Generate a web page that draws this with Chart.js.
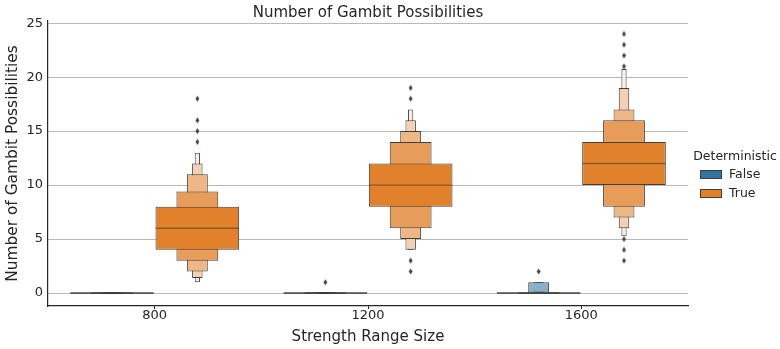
<!DOCTYPE html>
<html>
<head>
<meta charset="utf-8">
<script src="https://cdn.jsdelivr.net/npm/chart.js@4.4.1/dist/chart.umd.min.js"></script>
<style>
  html, body { margin: 0; padding: 0; background: #ffffff; }
  #wrap { position: relative; width: 780px; height: 349px; }
  #legend { position: absolute; left: 0; top: 0; font-family: 'DejaVu Sans', sans-serif; color: #262626; }
  .lg-title { position: absolute; left: 690px; top: 148px; width: 90px; text-align: center; font-size: 12.5px; line-height: 16px; }
  .lg-item { position: absolute; left: 700px; font-size: 12.5px; line-height: 16px; white-space: nowrap; }
  .lg-swatch { position: absolute; left: 0; top: 3.5px; width: 22px; height: 9px; box-sizing: border-box; border: 1px solid #3f3f3f; }
  .lg-text { position: absolute; left: 29px; top: 0; }
</style>
</head>
<body>
<div id="wrap">
  <canvas id="chart" width="780" height="349"></canvas>
  <div id="legend"></div>
</div>
<script>
// Categories and hue groups
const categories = ['800', '1200', '1600'];
const hues = ['False', 'True'];
const hueColors = ['#3274a1', '#e1812c'];
const yTicks = [0, 5, 10, 15, 20, 25];

// Letter-value boxes [lower, upper] per category; level 1 (quartiles) first, then outward
const falseBoxes = [
  [[0, 0], [0, 0], [0, 0]],
  [[0, 0], [0, 0], [0, 0]],
  [[0, 0], [0, 0], [0, 1]],
  [[0, 0], [0, 0], [0, 1]],
  [[0, 0], [0, 0], [0, 1]]
];
const trueBoxes = [
  [[4, 8], [8, 12], [10, 14]],
  [[3, 9.4], [6, 14], [8, 16]],
  [[2, 11], [5, 15], [7, 17]],
  [[1.4, 12], [4, 16], [6, 19]],
  [[1, 13], [4, 17], [5.25, 20.75]]
];

// Medians per category
const falseMedians = [0, 0, 0];
const trueMedians = [6, 10, 12];

// Outlying observations per category
const falseOutliers = [[], [1], [2]];
const trueOutliers = [[14, 15, 16, 18], [2, 3, 18, 19], [3, 4, 5, 21, 22, 23, 24]];

const FONT = "'DejaVu Sans', 'Liberation Sans', sans-serif";
const INK = '#262626';
const EDGE = '#3f3f3f';
const GRID = '#b9b9b9';

const boxesByHue = [falseBoxes, trueBoxes];
const mediansByHue = [falseMedians, trueMedians];
const outliersByHue = [falseOutliers, trueOutliers];
const nLevels = trueBoxes.length;

// dodge offsets of the two hue slots, in category units
const HUE_OFFSET = [-0.2, 0.2];
const HALF_W = 0.98 * 0.4 / 2;

// lighten a hex colour toward white by fraction f
function tint(hex, f) {
  const n = parseInt(hex.slice(1), 16);
  const r = (n >> 16) & 255, g = (n >> 8) & 255, b = n & 255;
  const m = c => Math.round(c + (255 - c) * f);
  return 'rgb(' + m(r) + ',' + m(g) + ',' + m(b) + ')';
}

// thin diamond marker for outliers
const diamond = document.createElement('canvas');
diamond.width = 5; diamond.height = 7;
(function () {
  const d = diamond.getContext('2d');
  d.fillStyle = EDGE;
  d.beginPath();
  d.moveTo(2.5, 0.6); d.lineTo(4.4, 3.5); d.lineTo(2.5, 6.4); d.lineTo(0.6, 3.5);
  d.closePath(); d.fill();
})();

const datasets = [];

// median segments across each level-1 box
const medianPts = [];
mediansByHue.forEach((meds, h) => meds.forEach((m, i) => {
  const c = i + HUE_OFFSET[h];
  medianPts.push({ x: c - HALF_W, y: m }, { x: c + HALF_W, y: m }, { x: c, y: null });
}));
datasets.push({
  type: 'line', xAxisID: 'xm', yAxisID: 'y', data: medianPts,
  borderColor: 'rgba(38,38,38,0.45)', borderWidth: 1.3, pointRadius: 0,
  spanGaps: false, fill: false, tension: 0
});

// outliers
const outPts = [];
outliersByHue.forEach((outs, h) => outs.forEach((vals, i) => vals.forEach(v => {
  outPts.push({ x: i + HUE_OFFSET[h], y: v });
})));
datasets.push({
  type: 'scatter', xAxisID: 'xm', yAxisID: 'y', data: outPts,
  pointStyle: diamond, pointRadius: 3, pointHoverRadius: 3
});

// nested boxes, placed at the dodged slot centres; level 1 first so it draws on top,
// each further level half as wide
for (let lv = 0; lv < nLevels; lv++) {
  boxesByHue.forEach((boxes, h) => {
    datasets.push({
      type: 'bar', label: hues[h], xAxisID: 'xl', yAxisID: 'y', grouped: false,
      data: boxes[lv].map((b, i) => ({ x: i + HUE_OFFSET[h], y: b })),
      backgroundColor: tint(hueColors[h], 0.85 * lv / (nLevels - 1)),
      borderColor: EDGE, borderWidth: 1, borderSkipped: false,
      categoryPercentage: 1, barPercentage: 0.98 / Math.pow(2, lv),
      minBarLength: 1.5
    });
  });
}

new Chart(document.getElementById('chart'), {
  type: 'bar',
  data: { labels: categories, datasets: datasets },
  options: {
    responsive: false,
    animation: false,
    events: [],
    layout: { padding: { left: 0, right: 92, top: 0, bottom: 0 } },
    plugins: { legend: { display: false }, tooltip: { enabled: false }, title: { display: false } },
    scales: {
      x: {
        type: 'category', labels: categories, position: 'bottom', offset: true,
        grid: { display: true, drawOnChartArea: false, drawTicks: true, tickLength: 3, color: INK, lineWidth: 1, offset: false },
        border: { display: true, color: INK, width: 1.2 },
        ticks: { color: INK, font: { family: FONT, size: 13, lineHeight: 1 }, padding: 0, maxRotation: 0 },
        title: { display: true, text: 'Strength Range Size', color: INK, font: { family: FONT, size: 15, lineHeight: 1.2 }, padding: { top: 0, bottom: 3 } },
        afterFit: s => { s.height = 43; }
      },
      xl: {
        type: 'linear', position: 'top', min: -0.5, max: 2.5, offset: false,
        afterBuildTicks: s => { s.ticks = categories.map((c, i) => ({ value: i })); },
        ticks: { display: false }, grid: { display: false, offset: false }, border: { display: false },
        title: { display: true, text: 'Number of Gambit Possibilities', color: INK, font: { family: FONT, size: 15, lineHeight: 1.2 }, padding: { top: 4.3, bottom: 0 } },
        afterFit: s => { s.height = 21; }
      },
      xm: {
        type: 'linear', display: false, min: -0.5, max: 2.5, offset: false,
        grid: { offset: false }
      },
      y: {
        type: 'linear', min: -1.2, max: 25.2, stacked: false,
        afterBuildTicks: s => { s.ticks = yTicks.map(v => ({ value: v })); },
        grid: { color: GRID, lineWidth: 1, drawTicks: false },
        border: { display: true, color: INK, width: 1.2 },
        ticks: { color: INK, font: { family: FONT, size: 13 }, padding: 5 },
        title: { display: true, text: 'Number of Gambit Possibilities', color: INK, font: { family: FONT, size: 15.4, lineHeight: 1.2 }, padding: { top: 3.8, bottom: 0 } },
        afterFit: s => { s.width = 48; }
      }
    }
  }
});

// legend for the hue groups
const legend = document.getElementById('legend');
const lt = document.createElement('div');
lt.className = 'lg-title';
lt.textContent = 'Deterministic';
legend.appendChild(lt);
hues.forEach((name, h) => {
  const item = document.createElement('div');
  item.className = 'lg-item';
  item.style.top = (166 + h * 19) + 'px';
  const sw = document.createElement('span');
  sw.className = 'lg-swatch';
  sw.style.background = hueColors[h];
  const tx = document.createElement('span');
  tx.className = 'lg-text';
  tx.textContent = name;
  item.appendChild(sw); item.appendChild(tx);
  legend.appendChild(item);
});
</script>
</body>
</html>
